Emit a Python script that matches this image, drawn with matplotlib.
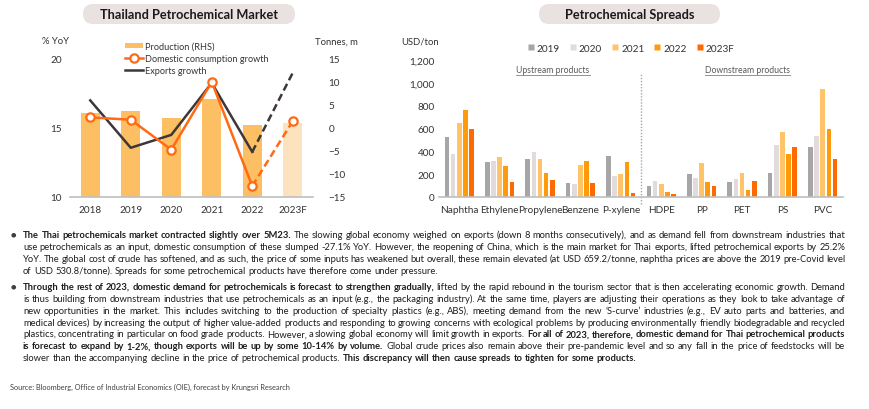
import matplotlib.pyplot as plt
import matplotlib.transforms as mtransforms
from matplotlib.patches import FancyBboxPatch, Patch
from matplotlib.lines import Line2D
import numpy as np

plt.rcParams['font.family'] = ['Lato', 'DejaVu Sans']

# --- data -------------------------------------------------------------
years = ['2018', '2019', '2020', '2021', '2022', '2023F']
production = [16.1, 16.2, 15.7, 17.1, 15.2, 15.35]   # tonnes, m
domestic = [2.3, 1.8, -4.7, 10.0, -12.6, 1.5]       # % YoY
exports = [6.0, -4.3, -1.5, 9.8, -5.2, 12.0]        # % YoY

products = ['Naphtha', 'Ethylene', 'Propylene', 'Benzene', 'P-xylene',
            'HDPE', 'PP', 'PET', 'PS', 'PVC']
spread_years = ['2019', '2020', '2021', '2022', '2023F']
spread_2019 = [524, 307, 329, 119, 362, 99, 204, 134, 212, 442]
spread_2020 = [378, 311, 393, 114, 180, 137, 163, 160, 457, 537]
spread_2021 = [645, 352, 334, 282, 198, 116, 300, 214, 566, 947]
spread_2022 = [764, 268, 207, 317, 303, 44, 134, 64, 378, 598]
spread_2023f = [597, 134, 151, 119, 35, 30, 99, 143, 441, 335]

W, H = 870, 410
fig = plt.figure(figsize=(8.7, 4.1), dpi=100)
renderer = fig.canvas.get_renderer()


def fx(px):
    return px / W


def fy(py):
    return 1 - py / H


txt_col = '#333333'
bar_col = '#FDBF63'
bar_fc = '#FDE3BD'
dom_col = '#FF6A13'
exp_col = '#3E3737'
tick_size = 7.2

# --- title pills ----------------------------------------------------------
def pill(x0, x1, y0, y1, label):
    p = FancyBboxPatch((x0, H - y1), x1 - x0, y1 - y0,
                       boxstyle='round,pad=0,rounding_size=10',
                       transform=mtransforms.IdentityTransform(),
                       fc='#EAE1E1', ec='none')
    fig.add_artist(p)
    fig.text(fx((x0 + x1) / 2), fy((y0 + y1) / 2), label, ha='center', va='center',
             fontsize=9.2, fontweight='bold', color='#1a1a1a')


pill(83, 295, 5, 25, 'Thailand Petrochemical Market')
pill(539, 720, 5, 25, 'Petrochemical Spreads')

# --- left chart -----------------------------------------------------------------
ax1 = fig.add_axes([fx(70), fy(198), fx(313) - fx(70), (198 - 60) / H])
x = np.arange(len(years))
cols = [bar_col] * 5 + [bar_fc]
ax1.bar(x, production, width=0.47, color=cols, zorder=1)
ax1.set_ylim(10, 20)
ax1.set_xlim(-0.5, 5.5)
ax1.set_yticks([10, 15, 20])
ax1.set_xticks(x)
ax1.set_xticklabels(years)

ax2 = ax1.twinx()
ax2.set_ylim(-15, 15)
ax2.set_yticks(np.arange(-15, 16, 5))
ax2.plot(x[:5], exports[:5], color=exp_col, lw=1.8)
ax2.plot(x[4:], exports[4:], color=exp_col, lw=1.8, ls=(0, (3, 1.6)))
ax2.plot(x[:5], domestic[:5], color=dom_col, lw=1.8)
ax2.plot(x[4:], domestic[4:], color=dom_col, lw=1.8, ls=(0, (3, 1.6)))
ax2.plot(x, domestic, ls='none', marker='o', ms=6, mfc='white', mec=dom_col, mew=1.6)

for a in (ax1, ax2):
    for s in a.spines.values():
        s.set_visible(False)
    a.tick_params(length=0, labelsize=tick_size, colors=txt_col)
ax1.spines['bottom'].set_visible(True)
ax1.spines['bottom'].set_color('#BFBFBF')
ax1.spines['bottom'].set_linewidth(1.2)
ax1.tick_params(axis='y', pad=6)
ax1.tick_params(axis='x', pad=6)
ax2.tick_params(axis='y', pad=11)
for lab in ax2.get_yticklabels():
    lab.set_ha('left')

fig.text(fx(55), fy(42), '% YoY', ha='center', va='center', fontsize=6.8, color=txt_col)
fig.text(fx(336), fy(42), 'Tonnes, m', ha='center', va='center', fontsize=6.8, color=txt_col)

handles = [Patch(fc=bar_col, ec='none'),
           Line2D([], [], color=dom_col, lw=1.8, marker='o', ms=6, mfc='white', mec=dom_col, mew=1.6),
           Line2D([], [], color=exp_col, lw=1.8)]
fig.legend(handles, ['Production (RHS)', 'Domestic consumption growth', 'Exports growth'],
           loc='upper left', bbox_to_anchor=(fx(125), fy(42.5)), frameon=False,
           fontsize=6.6, handlelength=1.95, handleheight=0.45, labelspacing=0.34,
           handletextpad=0.2, borderaxespad=0, borderpad=0, labelcolor=txt_col)

# --- right chart -----------------------------------------------------------------
axr = fig.add_axes([fx(439), fy(198), fx(843) - fx(439), (198 - 61) / H])
xp = np.arange(len(products))
series = [spread_2019, spread_2020, spread_2021, spread_2022, spread_2023f]
scol = ['#A6A6A6', '#E3DBDB', '#FFC46A', '#FF9B0A', '#FF6A00']
step = 0.152
for i, (vals, c, lab) in enumerate(zip(series, scol, spread_years)):
    axr.bar(xp + (i - 2) * step, vals, width=0.115, color=c, label=lab)
axr.set_xlim(-0.5, 9.5)
axr.set_ylim(0, 1200)
axr.set_yticks(np.arange(0, 1201, 200))
axr.set_yticklabels([f'{v:,}' for v in range(0, 1201, 200)])
axr.set_xticks(xp)
axr.set_xticklabels(products)
for s in axr.spines.values():
    s.set_visible(False)
axr.spines['bottom'].set_visible(True)
axr.spines['bottom'].set_color('#BFBFBF')
axr.spines['bottom'].set_linewidth(1.2)
axr.tick_params(length=0, labelsize=tick_size, colors=txt_col)
axr.tick_params(axis='y', pad=3)
axr.tick_params(axis='x', pad=6)
axr.plot([4.5, 4.5], [-60, 1078], ls=(0, (1, 1.2)), color='#A6A6A6', lw=1, clip_on=False)

fig.text(fx(420), fy(42), 'USD/ton', ha='center', va='center', fontsize=6.8, color=txt_col)

sh = [Line2D([], [], ls='none', marker='s', ms=5, mfc=c, mec='none') for c in scol]
fig.legend(sh, spread_years, loc='center', bbox_to_anchor=(fx(631), fy(49)), ncol=5,
           frameon=False, fontsize=7.2, handlelength=0.6, handletextpad=0.3,
           columnspacing=1.0, borderpad=0, labelcolor=txt_col)


def underlined(xc, yc, s):
    t = fig.text(fx(xc), fy(yc), s, ha='center', va='center', fontsize=6.2, color='#595959')
    bb = t.get_window_extent(renderer)
    fig.add_artist(Line2D([bb.x0 / W, bb.x1 / W], [(bb.y0 - 0.5) / H] * 2,
                          color='#808080', lw=0.6))


underlined(553, 71, 'Upstream products')
underlined(748, 71, 'Downstream products')

# --- commentary text -------------------------------------------------------------------------
para1 = [
    [('The Thai petrochemicals market contracted slightly over 5M23.', True),
     ('The slowing global economy weighed on exports (down 8 months consecutively), and as demand fell from downstream industries that', False)],
    [('use petrochemicals as an input, domestic consumption of these slumped -27.1% YoY. However, the reopening of China, which is the main market for Thai exports, lifted petrochemical exports by 25.2%', False)],
    [('YoY. The global cost of crude has softened, and as such, the price of some inputs has weakened but overall, these remain elevated (at USD 659.2/tonne, naphtha prices are above the 2019 pre-Covid level', False)],
    [('of USD 530.8/tonne). Spreads for some petrochemical products have therefore come under pressure.', False)],
]
para2 = [
    [('Through the rest of 2023, domestic demand for petrochemicals is forecast to strengthen gradually,', True),
     ('lifted by the rapid rebound in the tourism sector that is then accelerating economic growth. Demand', False)],
    [('is thus building from downstream industries that use petrochemicals as an input (e.g., the packaging industry). At the same time, players are adjusting their operations as they look to take advantage of', False)],
    [('new opportunities in the market. This includes switching to the production of specialty plastics (e.g., ABS), meeting demand from the new \u2018S-curve\u2019 industries (e.g., EV auto parts and batteries, and', False)],
    [('medical devices) by increasing the output of higher value-added products and responding to growing concerns with ecological problems by producing environmentally friendly biodegradable and recycled', False)],
    [('plastics, concentrating in particular on food grade products. However, a slowing global economy will limit growth in exports.', False),
     ('For all of 2023, therefore, domestic demand for Thai petrochemical products', True)],
    [('is forecast to expand by 1-2%, though exports will be up by some 10-14% by volume.', True),
     ('Global crude prices also remain above their pre-pandemic level and so any fall in the price of feedstocks will be', False)],
    [('slower than the accompanying decline in the price of petrochemical products.', False),
     ('This discrepancy will then cause spreads to tighten for some products.', True)],
]

body_size = 6.75


def draw_line(y, segs, justify, x0=23, x1=845):
    words = []
    for s, b in segs:
        for w in s.split():
            words.append((w, b))
    texts, widths = [], []
    for w, b in words:
        t = fig.text(0, fy(y + 2.7), w, fontsize=body_size, fontweight='bold' if b else 'normal',
                     ha='left', va='baseline', color='#1e1e1e')
        texts.append(t)
        widths.append(t.get_window_extent(renderer).width)
    gap = body_size * 100 / 72 * 0.24
    if justify:
        gap = (x1 - x0 - sum(widths)) / (len(words) - 1)
    xx = x0
    for t, w in zip(texts, widths):
        t.set_x(fx(xx))
        xx += w + gap


def draw_para(y0, lines):
    fig.text(fx(13), fy(y0), '\u25cf', fontsize=4.5, ha='center', va='center',
             color='#404040', family='DejaVu Sans')
    for i, segs in enumerate(lines):
        draw_line(y0 + i * 11.95, segs, justify=(i < len(lines) - 1))


draw_para(235, para1)
draw_para(287, para2)

fig.text(fx(10), fy(387), 'Source: Bloomberg, Office of Industrial Economics (OIE), forecast by Krungsri Research',
         fontsize=5.3, ha='left', va='center', color='#404040')

fig.savefig('out.png', dpi=100)
